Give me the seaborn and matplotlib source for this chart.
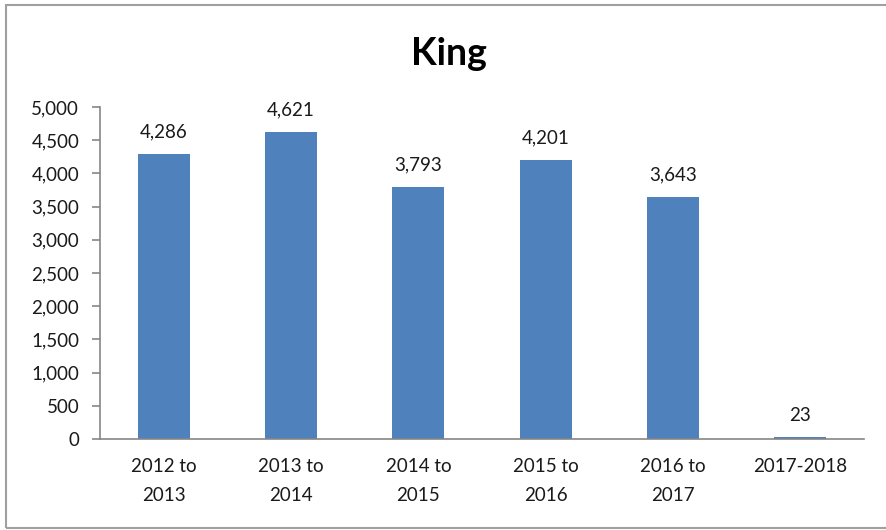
import matplotlib
matplotlib.use("Agg")
import matplotlib.pyplot as plt
import seaborn as sns
import pandas as pd
from matplotlib.patches import Rectangle

# Data
periods = ["2012 to\n2013", "2013 to\n2014", "2014 to\n2015", "2015 to\n2016", "2016 to\n2017", "2017-2018"]
counts = [4286, 4621, 3793, 4201, 3643, 23]
yticks = [0, 500, 1000, 1500, 2000, 2500, 3000, 3500, 4000, 4500, 5000]

df = pd.DataFrame({"period": periods, "count": counts})

sns.set_style("white")
plt.rcParams["font.family"] = ["Lato", "DejaVu Sans"]

fig = plt.figure(figsize=(8.86, 5.30), dpi=100)
ax = fig.add_axes([100 / 886, 1 - 439 / 530, 764 / 886, 332 / 530])

sns.barplot(data=df, x="period", y="count", color="#4F81BD", saturation=1, width=0.41,
            linewidth=0, ax=ax)

ax.set_xlim(-0.5, len(periods) - 0.5)
ax.set_ylim(0, 5000)
ax.set_yticks(yticks)
ax.set_yticklabels([f"{v:,}" for v in yticks])
ax.set_xlabel("")
ax.set_ylabel("")

txt = "#1a1a1a"
fs = 13.5

# Value labels above bars
for i, v in enumerate(counts):
    ax.annotate(f"{v:,}", (i, v), xytext=(0, 10), textcoords="offset points",
                ha="center", va="bottom", fontsize=fs, color=txt)

axis_col = "#868686"
for side in ["top", "right"]:
    ax.spines[side].set_visible(False)
for side in ["left", "bottom"]:
    ax.spines[side].set_color(axis_col)
    ax.spines[side].set_linewidth(1.2)

# ticks at category boundaries on x
ax.set_xticks([i - 0.5 for i in range(len(periods) + 1)], minor=True)
ax.tick_params(axis="x", which="major", length=0, labelsize=fs, pad=14, colors=txt)
ax.tick_params(axis="x", which="minor", length=6, width=1.2, color=axis_col, direction="out")
ax.tick_params(axis="y", which="major", length=6, width=1.2, color=axis_col, direction="out",
               labelsize=fs, labelcolor=txt, pad=9, left=True)
for lab in ax.get_xticklabels():
    lab.set_linespacing(1.8)

fig.text(449 / 886, 1 - 54 / 530, "King", ha="center", va="center",
         fontsize=27, fontweight="bold", color="black")

# outer chart border (runs off the right edge like the reference)
fig.patches.append(Rectangle((6 / 886, 2 / 530), 900 / 886, 523 / 530, transform=fig.transFigure,
                             fill=False, edgecolor="#a0a0a0", linewidth=1.5, clip_on=False))

fig.savefig("out.png", dpi=100)
